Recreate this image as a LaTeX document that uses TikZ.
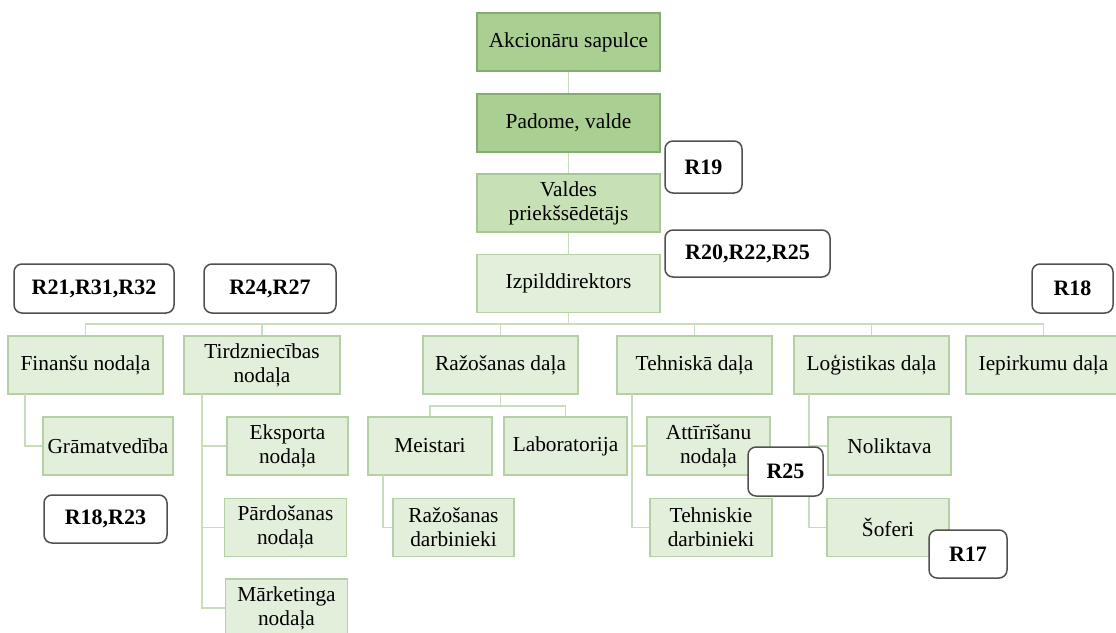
\documentclass[tikz,border=0pt]{standalone}
\usepackage{fontspec}
\setmainfont{Liberation Serif}
\newdimen\upx \upx=0.75pt
\definecolor{gdark}{HTML}{A9CF92}
\definecolor{gdarkb}{HTML}{86AD70}
\definecolor{gmid}{HTML}{C7E0B6}
\definecolor{gmidb}{HTML}{A6C795}
\definecolor{glight}{HTML}{E2EFDA}
\definecolor{glightb}{HTML}{B5CFA6}
\definecolor{gline}{HTML}{C8DDBC}
\definecolor{rbord}{HTML}{505050}
\tikzset{
  box/.style={rectangle, inner sep=0pt, align=center, font=\fontsize{16}{18}\selectfont, line width=1.2\upx, minimum height=58\upx},
  topbox/.style={box, fill=gdark, draw=gdarkb, minimum width=183\upx},
  midbox/.style={box, fill=gmid, draw=gmidb, minimum width=183\upx},
  dept/.style={box, fill=glight, draw=glightb},
  rtag/.style={rectangle, rounded corners=8\upx, draw=rbord, fill=white, line width=1.5\upx, inner sep=0pt, font=\fontsize{16.5}{18}\selectfont\bfseries, minimum height=49\upx},
  conn/.style={draw=gline, line width=1.5\upx}
}
\begin{document}
\begin{tikzpicture}[x=0.75pt, y=-0.75pt]
\clip (0,0) rectangle (1116,632);
\fill[white] (0,0) rectangle (1116,632);
% top column
\node[topbox] (ak) at (568.5,42) {Akcionāru sapulce};
\node[topbox] (pad) at (568.5,123) {Padome, valde};
\node[midbox] (val) at (568.5,203) {Valdes\\priekšsēdētājs};
\node[dept, minimum width=183\upx] (izp) at (568.5,283.5) {Izpilddirektors};
% departments
\node[dept, minimum width=155\upx] (fin) at (85.5,365) {Finanšu nodaļa};
\node[dept, minimum width=156\upx] (tir) at (262,365) {Tirdzniecības\\nodaļa};
\node[dept, minimum width=155\upx] (raz) at (500.5,365) {Ražošanas daļa};
\node[dept, minimum width=155\upx] (teh) at (694.5,365) {Tehniskā daļa};
\node[dept, minimum width=155\upx] (log) at (871.5,365) {Loģistikas daļa};
\node[dept, minimum width=155\upx] (iep) at (1043.5,365) {Iepirkumu daļa};
% second level
\node[dept, minimum width=130\upx] (gram) at (108,446) {Grāmatvedība};
\node[dept, minimum width=121\upx] (eks) at (287.5,446) {Eksporta\\nodaļa};
\node[dept, minimum width=122\upx] (par) at (285.5,527.5) {Pārdošanas\\nodaļa};
\node[dept, minimum width=122\upx] (mar) at (286.5,608) {Mārketinga\\nodaļa};
\node[dept, minimum width=124\upx] (mei) at (430,446) {Meistari};
\node[dept, minimum width=123\upx] (lab) at (565.5,446) {Laboratorija};
\node[dept, minimum width=121\upx] (rdarb) at (453.5,527.5) {Ražošanas\\darbinieki};
\node[dept, minimum width=123\upx] (att) at (708.5,446) {Attīrīšanu\\nodaļa};
\node[dept, minimum width=122\upx] (tdarb) at (711,527.5) {Tehniskie\\darbinieki};
\node[dept, minimum width=123\upx] (nol) at (889.5,446) {Noliktava};
\node[dept, minimum width=122\upx] (sof) at (888,527.5) {Šoferi};
% connector coordinates
\coordinate (bus) at (568,324);
\coordinate (rbus) at (502,406);
\coordinate (finx) at (25,394);
\coordinate (tirx) at (202,394);
\coordinate (meix) at (383,475);
\coordinate (tehx) at (632,394);
\coordinate (logx) at (809,394);
% connectors
\draw[conn] (ak.south) -- (pad.north);
\draw[conn] (pad.south) -- (val.north);
\draw[conn] (val.south) -- (izp.north);
\draw[conn] (izp.south) -- (izp.south |- bus);
\draw[conn] (fin.north) |- (bus);
\draw[conn] (tir.north) |- (bus);
\draw[conn] (raz.north) |- (bus);
\draw[conn] (teh.north) |- (bus);
\draw[conn] (log.north) |- (bus);
\draw[conn] (iep.north) |- (bus);
\draw[conn] (finx) |- (gram.west);
\draw[conn] (tirx) |- (eks.west);
\draw[conn] (tirx) |- (par.west);
\draw[conn] (tirx) |- (mar.west);
\draw[conn] (raz.south) -- (raz.south |- rbus);
\draw[conn] (mei.north) |- (rbus);
\draw[conn] (lab.north) |- (rbus);
\draw[conn] (meix) |- (rdarb.west);
\draw[conn] (tehx) |- (att.west);
\draw[conn] (tehx) |- (tdarb.west);
\draw[conn] (logx) |- (nol.west);
\draw[conn] (logx) |- (sof.west);
% R tags
\node[rtag, minimum width=77\upx, minimum height=52\upx] (r19) at (703.5,167) {R19};
\node[rtag, minimum width=165\upx, minimum height=47\upx] (r20) at (747.5,253.5) {R20,R22,R25};
\node[rtag, minimum width=160\upx] (r21) at (94,288.5) {R21,R31,R32};
\node[rtag, minimum width=132\upx] (r24) at (270,288.5) {R24,R27};
\node[rtag, minimum width=81\upx] (r18) at (1072.5,288.5) {R18};
\node[rtag, minimum width=123\upx, minimum height=48\upx] (r1823) at (105.5,519) {R18,R23};
\node[rtag, minimum width=75\upx] (r25) at (785.5,471.5) {R25};
\node[rtag, minimum width=78\upx, minimum height=48\upx] (r17) at (968,554) {R17};
\end{tikzpicture}
\end{document}
